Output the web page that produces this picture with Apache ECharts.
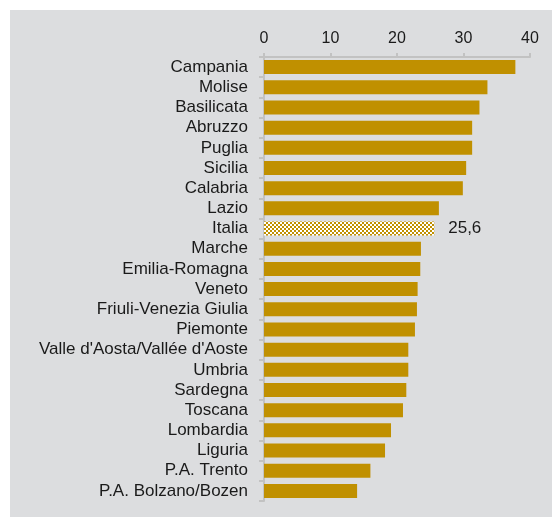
<!DOCTYPE html>
<html>
<head>
<meta charset="utf-8">
<script src="https://cdn.jsdelivr.net/npm/echarts@6/dist/echarts.min.js"></script>
<style>
  html, body { margin: 0; padding: 0; background: #ffffff; }
  #panel { position: absolute; left: 10px; top: 10px; width: 542px; height: 507px; background: #DCDDDF; }
  #chart { width: 542px; height: 507px; }
</style>
</head>
<body>
<div id="panel"><div id="chart"></div></div>
<script>
const categories = [
  "Campania", "Molise", "Basilicata", "Abruzzo", "Puglia", "Sicilia", "Calabria", "Lazio",
  "Italia", "Marche", "Emilia-Romagna", "Veneto", "Friuli-Venezia Giulia", "Piemonte",
  "Valle d'Aosta/Vallée d'Aoste", "Umbria", "Sardegna", "Toscana", "Lombardia", "Liguria",
  "P.A. Trento", "P.A. Bolzano/Bozen"
];
const values = [
  37.8, 33.6, 32.4, 31.3, 31.3, 30.4, 29.9, 26.3,
  25.6, 23.6, 23.5, 23.1, 23.0, 22.7,
  21.7, 21.7, 21.4, 20.9, 19.1, 18.2,
  16.0, 14.0
];
const highlightCategory = "Italia";
const xTicks = [0, 10, 20, 30, 40];

const gold = '#C09000';
const pc = document.createElement('canvas');
pc.width = 4; pc.height = 4;
const ctx = pc.getContext('2d');
ctx.fillStyle = '#ffffff'; ctx.fillRect(0, 0, 4, 4);
ctx.fillStyle = gold;
ctx.fillRect(0, 0, 2, 2); ctx.fillRect(2, 2, 2, 2);

const data = categories.map((c, i) => {
  if (c === highlightCategory) {
    return {
      value: values[i],
      itemStyle: { color: { image: pc, repeat: 'repeat' } },
      label: {
        show: true, position: 'right', distance: 14,
        formatter: p => String(p.value).replace('.', ','),
        fontFamily: 'Liberation Sans, Arial, sans-serif', fontSize: 17, color: '#1a1a1a'
      }
    };
  }
  return { value: values[i] };
});

const chart = echarts.init(document.getElementById('chart'), null, { renderer: 'canvas' });
chart.setOption({
  backgroundColor: 'transparent',
  animation: false,
  grid: { left: 254, right: 22, top: 47, bottom: 16, containLabel: false },
  xAxis: {
    type: 'value', position: 'top',
    min: xTicks[0], max: xTicks[xTicks.length - 1], interval: 10,
    axisLine: { show: true, lineStyle: { color: '#C2C2C2', width: 2 } },
    axisTick: { show: true, length: 4, lineStyle: { color: '#C2C2C2', width: 2 } },
    splitLine: { show: false },
    axisLabel: { margin: 10, fontFamily: 'Liberation Sans, Arial, sans-serif', fontSize: 16, color: '#1a1a1a' }
  },
  yAxis: {
    type: 'category', inverse: true, data: categories,
    axisLine: { show: true, lineStyle: { color: '#C2C2C2', width: 2 } },
    axisTick: { show: true, interval: 0, length: 5, alignWithLabel: false, lineStyle: { color: '#C2C2C2', width: 2 } },
    axisLabel: { interval: 0, margin: 16, fontFamily: 'Liberation Sans, Arial, sans-serif', fontSize: 17, color: '#1a1a1a' }
  },
  series: [{
    type: 'bar', data: data, barWidth: 14,
    itemStyle: { color: gold },
    label: { show: false }
  }]
});
</script>
</body>
</html>
